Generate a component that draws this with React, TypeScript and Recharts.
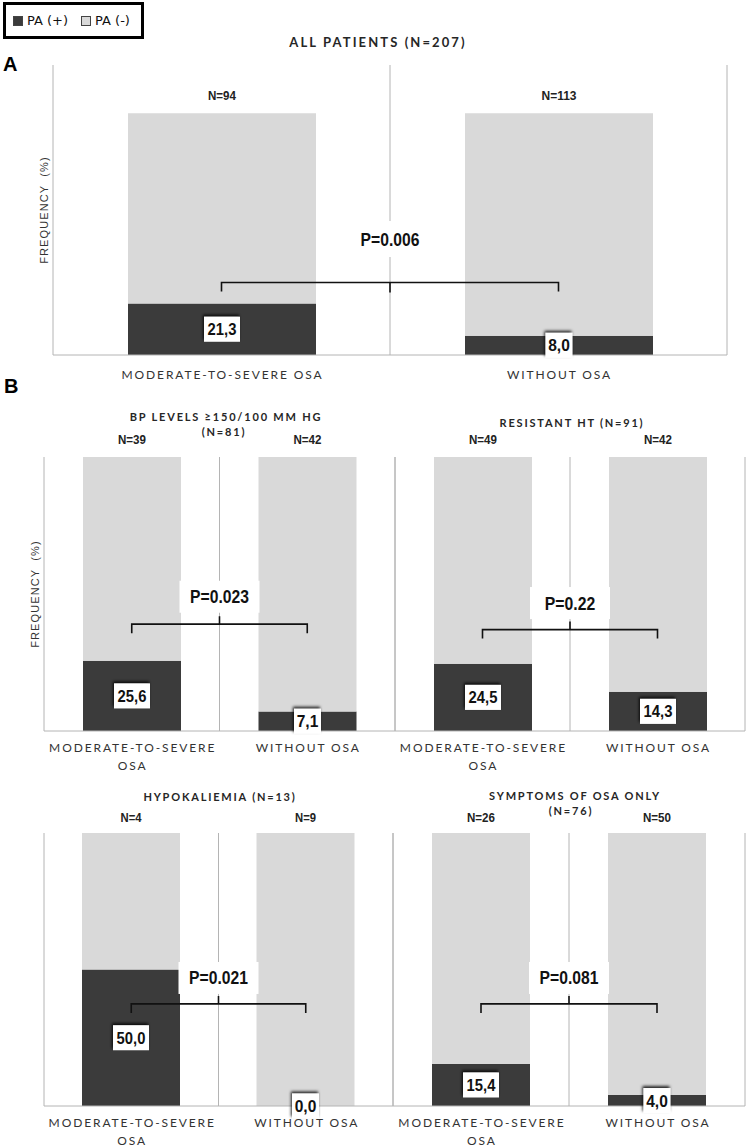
import React from "react";
import { BarChart, Bar, XAxis, YAxis, CartesianGrid, ReferenceLine, LabelList } from "recharts";

const GROUPS = ["MODERATE-TO-SEVERE OSA", "WITHOUT OSA"];
const SERIES = ["PA (+)", "PA (-)"];

// % with primary aldosteronism, and group sizes
const ALL_PA = [21.3, 8.0];
const ALL_N = [94, 113];
const BP_PA = [25.6, 7.1];
const BP_N = [39, 42];
const RHT_PA = [24.5, 14.3];
const RHT_N = [49, 42];
const HYPO_PA = [50.0, 0.0];
const HYPO_N = [4, 9];
const SYMPT_PA = [15.4, 4.0];
const SYMPT_N = [26, 50];

const P_VALUES = ["P=0.006", "P=0.023", "P=0.22", "P=0.021", "P=0.081"];
// where the bracket and the p-value sit, in axis units (%)
const BRACKET_LEVEL = [30, 39, 37, 37.4, 37.4];
const P_LEVEL = [48, 49, 46.7, 46.9, 46.9];

const DARK = "#3b3b3b";
const LIGHT = "#d9d9d9";
const GRID = "#b4b4b4";
const LABEL_FONT = "Lato, 'Open Sans', sans-serif";
const BOLD_FONT = "'Liberation Sans', Arial, sans-serif";

const rows = (pa: number[], n: number[]) =>
  GROUPS.map((g, i) => ({ group: g, pos: pa[i], neg: 100 - pa[i], n: n[i] }));

function GroupTick(props: any) {
  const { x, y, payload, wrap, dy1 } = props;
  const text = String(payload.value);
  const cut = text.lastIndexOf(" ");
  const lines = wrap && text.length > 14 ? [text.slice(0, cut), text.slice(cut + 1)] : [text];
  return (
    <text x={x + 1} y={y} textAnchor="middle" fill="#333"
      style={{ fontFamily: LABEL_FONT, fontSize: 12, letterSpacing: 1.9 }}>
      {lines.map((l, i) => (
        <tspan key={i} x={x + 1} dy={i === 0 ? dy1 : 18}>{l}</tspan>
      ))}
    </text>
  );
}

// value box sits in the middle of the dark (PA+) part
function ValueBox(props: any) {
  const vb = props.viewBox ?? props;
  const { x, y, width, height } = vb;
  const row = props.rows[props.index];
  const darkH = row.neg > 0 ? (row.pos * height) / row.neg : 0;
  const label = Number(row.pos).toFixed(1).replace(".", ",");
  const w = label.length * 9;
  const cx = x + width / 2;
  const cy = y + height + darkH / 2;
  return (
    <g>
      <defs>
        <filter id="boxShadow" x="-50%" y="-50%" width="200%" height="200%">
          <feDropShadow dx={-1} dy={-2} stdDeviation={1.6} floodColor="#000" floodOpacity={0.85} />
        </filter>
      </defs>
      <rect x={cx - w / 2} y={cy - 12.5} width={w} height={25} fill="#fff" filter="url(#boxShadow)" />
      <text x={cx} y={cy + 6} textAnchor="middle" fill="#111" textLength={label.length * 7.2} lengthAdjust="spacingAndGlyphs"
        style={{ fontFamily: BOLD_FONT, fontWeight: 700, fontSize: 17 }}>{label}</text>
    </g>
  );
}

function NLabel(props: any) {
  const vb = props.viewBox ?? props;
  const { x, y, width } = vb;
  const text = `N=${props.value}`;
  return (
    <text x={x + width / 2} y={y - props.gap} textAnchor="middle" fill="#222"
      textLength={text.length * 7} lengthAdjust="spacingAndGlyphs"
      style={{ fontFamily: BOLD_FONT, fontWeight: 700, fontSize: 12 }}>{text}</text>
  );
}

function Bracket(props: any) {
  const { x1, y1, x2, up } = props;
  const mid = (x1 + x2) / 2;
  const d = `M${x1},${y1 + 9} L${x1},${y1} L${x2},${y1} L${x2},${y1 + 9} M${mid},${y1} L${mid},${up ? y1 - 8 : y1 + 10}`;
  return <path d={d} stroke="#111" strokeWidth={1.6} fill="none" />;
}

function PLabel(props: any) {
  const { x1, y1, x2, text, boxH } = props;
  const mid = (x1 + x2) / 2;
  return (
    <g>
      <rect x={mid - 40} y={y1 - boxH / 2} width={80} height={boxH} fill="#fff" />
      <text x={mid} y={y1 + 6.5} textAnchor="middle" fill="#111" textLength={text.length * 8.4} lengthAdjust="spacingAndGlyphs"
        style={{ fontFamily: BOLD_FONT, fontWeight: 700, fontSize: 18 }}>{text}</text>
    </g>
  );
}

function FreqLabel({ cx, cy }: { cx: number; cy: number }) {
  return (
    <div style={{
      position: "absolute", left: cx - 60, top: cy - 7, width: 120, height: 14, lineHeight: "14px",
      textAlign: "center", transform: "rotate(-90deg)", fontFamily: BOLD_FONT, fontSize: 11,
      letterSpacing: 1.1, color: "#333", whiteSpace: "pre",
    }}>FREQUENCY  (%)</div>
  );
}

type PanelProps = {
  data: any[];
  plot: { x0: number; x1: number; y0: number; y1: number };
  yMax: number;
  barSize: number;
  pIndex: number;
  wrap: boolean;
  centerUp: boolean;
  nGap: number;
  dy1: number;
  pBox: number;
};

function Panel({ data, plot, yMax, barSize, pIndex, wrap, centerUp, nGap, dy1, pBox }: PanelProps) {
  const ML = 24, MR = 4, MT = 30, MB = 52, XH = 44;
  const width = plot.x1 - plot.x0 + ML + MR;
  const height = plot.y1 - plot.y0 + MT + MB;
  return (
    <div style={{ position: "absolute", left: plot.x0 - ML, top: plot.y0 - MT }}>
      <BarChart width={width} height={height} data={data} barSize={barSize}
        margin={{ top: MT, right: MR, bottom: MB - XH, left: ML }}>
        <CartesianGrid horizontal={false} stroke={GRID}
          verticalCoordinatesGenerator={({ offset }: any) => [offset.left, offset.left + (width - offset.left - offset.right) / 2, width - offset.right]} />
        <XAxis dataKey="group" height={XH} interval={0} tickLine={false} tickSize={0} tickMargin={0}
          axisLine={{ stroke: GRID }} tick={<GroupTick wrap={wrap} dy1={dy1} />} />
        <YAxis width={0} domain={[0, yMax]} tick={false} tickLine={false} axisLine={false} />
        <Bar dataKey="pos" name={SERIES[0]} stackId="s" fill={DARK} isAnimationActive={false} />
        <Bar dataKey="neg" name={SERIES[1]} stackId="s" fill={LIGHT} isAnimationActive={false}>
          <LabelList dataKey="n" content={(p: any) => <NLabel {...p} gap={nGap} />} />
          <LabelList dataKey="pos" content={(p: any) => <ValueBox {...p} rows={data} />} />
        </Bar>
        <ReferenceLine
          segment={[{ x: GROUPS[0], y: BRACKET_LEVEL[pIndex] }, { x: GROUPS[1], y: BRACKET_LEVEL[pIndex] }]}
          shape={(p: any) => <Bracket {...p} up={centerUp} />} />
        <ReferenceLine
          segment={[{ x: GROUPS[0], y: P_LEVEL[pIndex] }, { x: GROUPS[1], y: P_LEVEL[pIndex] }]}
          shape={(p: any) => <PLabel {...p} text={P_VALUES[pIndex]} boxH={pBox} />} />
      </BarChart>
    </div>
  );
}

function Title({ text, cx, cy, size = 11, spacing = 1.8 }: { text: string; cx: number; cy: number; size?: number; spacing?: number }) {
  return (
    <div style={{
      position: "absolute", left: cx - 200, top: cy - 8, width: 400, height: 16, lineHeight: "16px",
      textAlign: "center", fontFamily: LABEL_FONT, fontWeight: 700, fontSize: size, letterSpacing: spacing,
      color: "#262626", whiteSpace: "nowrap",
    }}>{text}</div>
  );
}

export default function App() {
  return (
    <div style={{ position: "absolute", left: 0, top: 0, width: 746, height: 1147, background: "#fff", overflow: "hidden" }}>
      {/* legend */}
      <div style={{
        position: "absolute", left: 3, top: 2, width: 141, height: 37, boxSizing: "border-box",
        border: "3px solid #000", display: "flex", alignItems: "center", paddingLeft: 7,
        fontFamily: "'DejaVu Sans', Verdana, sans-serif", fontSize: 13, color: "#111", whiteSpace: "nowrap",
      }}>
        {SERIES.map((s, i) => (
          <span key={s} style={{ display: "flex", alignItems: "center", marginRight: 13, whiteSpace: "nowrap" }}>
            <span style={{ width: 8, height: 8, flex: "none", background: i === 0 ? DARK : LIGHT, border: "1px solid #444", marginRight: 4 }} />
            {s}
          </span>
        ))}
      </div>

      <div style={{ position: "absolute", left: 3, top: 52, fontFamily: BOLD_FONT, fontWeight: 700, fontSize: 20, lineHeight: "24px" }}>A</div>
      <div style={{ position: "absolute", left: 4, top: 374, fontFamily: BOLD_FONT, fontWeight: 700, fontSize: 20, lineHeight: "24px" }}>B</div>

      <Title text="ALL PATIENTS (N=207)" cx={378} cy={42} size={13} spacing={2.1} />
      <Title text="BP LEVELS ≥150/100 MM HG" cx={226} cy={417} />
      <Title text="(N=81)" cx={224} cy={432} />
      <Title text="RESISTANT HT (N=91)" cx={572} cy={423} />
      <Title text="HYPOKALIEMIA (N=13)" cx={220} cy={797} />
      <Title text="SYMPTOMS OF OSA ONLY" cx={575} cy={796} />
      <Title text="(N=76)" cx={571} cy={811} />

      <FreqLabel cx={44} cy={210} />
      <FreqLabel cx={35} cy={594} />

      <Panel data={rows(ALL_PA, ALL_N)} plot={{ x0: 53, x1: 727, y0: 65, y1: 355 }} yMax={120} barSize={188}
        pIndex={0} wrap={false} centerUp={false} nGap={13} dy1={24} pBox={36} />
      <Panel data={rows(BP_PA, BP_N)} plot={{ x0: 44, x1: 395, y0: 457, y1: 731 }} yMax={100} barSize={98}
        pIndex={1} wrap centerUp nGap={13} dy1={21} pBox={32} />
      <Panel data={rows(RHT_PA, RHT_N)} plot={{ x0: 395, x1: 745, y0: 457, y1: 731 }} yMax={100} barSize={98}
        pIndex={2} wrap centerUp nGap={13} dy1={21} pBox={32} />
      <Panel data={rows(HYPO_PA, HYPO_N)} plot={{ x0: 44, x1: 393, y0: 833, y1: 1106 }} yMax={100} barSize={98}
        pIndex={3} wrap centerUp nGap={11} dy1={21} pBox={32} />
      <Panel data={rows(SYMPT_PA, SYMPT_N)} plot={{ x0: 393, x1: 745, y0: 833, y1: 1106 }} yMax={100} barSize={98}
        pIndex={4} wrap centerUp nGap={11} dy1={21} pBox={32} />
    </div>
  );
}
